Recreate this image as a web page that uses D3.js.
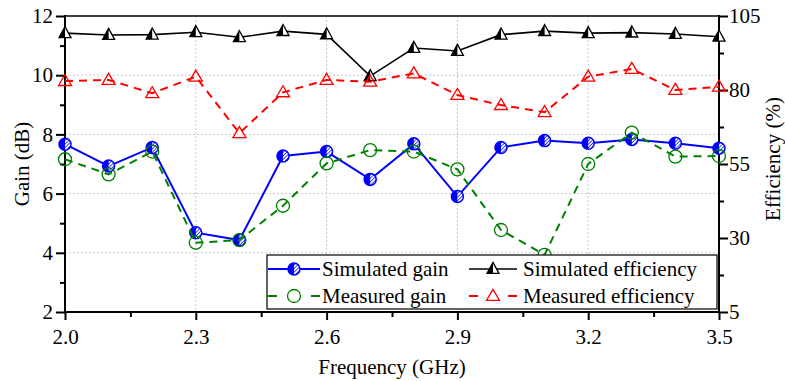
<!DOCTYPE html>
<html>
<head>
<meta charset="utf-8">
<script src="https://cdn.jsdelivr.net/npm/d3@7"></script>
<style>
  html, body { margin: 0; padding: 0; background: #fff; }
  svg { display: block; }
  svg text { font-family: "Times New Roman", "Liberation Serif", Tinos, "DejaVu Serif", "Noto Serif", serif !important; }
</style>
</head>
<body>
<svg id="chart" width="785" height="381"></svg>
<script>
// Frequency sweep (GHz)
const frequencies = [2.0, 2.1, 2.2, 2.3, 2.4, 2.5, 2.6, 2.7, 2.8, 2.9, 3.0, 3.1, 3.2, 3.3, 3.4, 3.5];
// Gain (dB)
const simulatedGain = [7.67, 6.93, 7.56, 4.68, 4.43, 7.27, 7.42, 6.48, 7.68, 5.90, 7.56, 7.79, 7.70, 7.83, 7.70, 7.53];
const measuredGain  = [7.16, 6.65, 7.42, 4.34, 4.43, 5.59, 7.02, 7.47, 7.42, 6.82, 4.77, 3.93, 7.00, 8.06, 7.25, 7.27];
// Efficiency (%)
const simulatedEfficiency = [99.2, 98.6, 98.7, 99.5, 97.8, 99.9, 98.8, 84.7, 94.2, 93.2, 98.7, 99.9, 99.2, 99.4, 98.9, 98.0];
const measuredEfficiency  = [83.0, 83.4, 78.9, 84.5, 65.4, 79.2, 83.4, 82.8, 85.6, 78.3, 74.9, 72.5, 84.5, 87.1, 80.0, 81.1];
// Axis ticks
const freqTicks = [2.0, 2.3, 2.6, 2.9, 3.2, 3.5];
const freqMinorTicks = [2.15, 2.45, 2.75, 3.05, 3.35];
const gainTicks = [2, 4, 6, 8, 10, 12];
const gainMinorTicks = [3, 5, 7, 9, 11];
const effTicks = [5, 30, 55, 80, 105];
const effMinorTicks = [17.5, 42.5, 67.5, 92.5];

const svg = d3.select("#chart");
const L = 65, R = 719, T = 16, B = 312;
const FONT = '"Times New Roman", "Liberation Serif", Tinos, "DejaVu Serif", serif';

const x = d3.scaleLinear().domain([2.0, 3.5]).range([L, R]);
const yG = d3.scaleLinear().domain([2, 12]).range([B, T]);
const yE = d3.scaleLinear().domain([5, 105]).range([B, T]);

// hatch pattern for the right half of the simulated-gain marker
const defs = svg.append("defs");
const pat = defs.append("pattern").attr("id", "hatch").attr("patternUnits", "userSpaceOnUse")
  .attr("width", 2.5).attr("height", 2.5).attr("patternTransform", "rotate(45)");
pat.append("rect").attr("width", 2.5).attr("height", 2.5).attr("fill", "#fff");
pat.append("line").attr("x1", 0).attr("y1", 0).attr("x2", 0).attr("y2", 2.5)
  .attr("stroke", "#0000ff").attr("stroke-width", 1.4);

// grid
const grid = svg.append("g").attr("stroke", "#c8c8c8").attr("stroke-width", 1).attr("stroke-dasharray", "2,2");
grid.selectAll(".gx").data(freqTicks.slice(1, -1)).join("line")
  .attr("x1", d => x(d)).attr("x2", d => x(d)).attr("y1", T).attr("y2", B);
grid.selectAll(".gy").data(gainTicks.slice(1, -1)).join("line")
  .attr("x1", L).attr("x2", R).attr("y1", d => yG(d)).attr("y2", d => yG(d));

// axes
const fmt1 = d3.format(".1f");
const axB = svg.append("g").attr("transform", `translate(0,${B})`)
  .call(d3.axisBottom(x).tickValues(freqTicks).tickFormat(fmt1).tickSize(8).tickSizeOuter(0));
const axBm = svg.append("g").attr("transform", `translate(0,${B})`)
  .call(d3.axisBottom(x).tickValues(freqMinorTicks).tickFormat("").tickSize(5).tickSizeOuter(0));
const axL = svg.append("g").attr("transform", `translate(${L},0)`)
  .call(d3.axisLeft(yG).tickValues(gainTicks).tickSize(9).tickSizeOuter(0));
const axLm = svg.append("g").attr("transform", `translate(${L},0)`)
  .call(d3.axisLeft(yG).tickValues(gainMinorTicks).tickFormat("").tickSize(5).tickSizeOuter(0));
const axR = svg.append("g").attr("transform", `translate(${R},0)`)
  .call(d3.axisRight(yE).tickValues(effTicks).tickSize(9).tickSizeOuter(0));
const axRm = svg.append("g").attr("transform", `translate(${R},0)`)
  .call(d3.axisRight(yE).tickValues(effMinorTicks).tickFormat("").tickSize(5).tickSizeOuter(0));

[axB, axBm, axL, axLm, axR, axRm].forEach(a => {
  a.attr("font-family", FONT).attr("font-size", 21);
  a.select(".domain").remove();
  a.selectAll(".tick line").attr("stroke", "#000").attr("stroke-width", 2);
  a.selectAll("text").attr("font-family", FONT).attr("font-size", 21).attr("fill", "#000");
});
axB.selectAll("text").attr("dy", "0.95em").attr("y", 12);
axL.selectAll("text").attr("x", -12);
axR.selectAll("text").attr("x", 10);

// frame
svg.append("line").attr("x1", L).attr("x2", R).attr("y1", T).attr("y2", T).attr("stroke", "#000").attr("stroke-width", 1.6);
svg.append("line").attr("x1", L - 1).attr("x2", R + 1).attr("y1", B).attr("y2", B).attr("stroke", "#000").attr("stroke-width", 2);
svg.append("line").attr("x1", L).attr("x2", L).attr("y1", T - 1).attr("y2", B + 1).attr("stroke", "#000").attr("stroke-width", 2);
svg.append("line").attr("x1", R).attr("x2", R).attr("y1", T - 1).attr("y2", B + 1).attr("stroke", "#000").attr("stroke-width", 2);

// axis titles
svg.append("text").attr("x", (L + R) / 2).attr("y", 374).attr("text-anchor", "middle")
  .attr("font-family", FONT).attr("font-size", 21).text("Frequency (GHz)");
svg.append("text").attr("transform", `translate(29,${(T + B) / 2}) rotate(-90)`).attr("text-anchor", "middle")
  .attr("font-family", FONT).attr("font-size", 21).text("Gain (dB)");
svg.append("text").attr("transform", `translate(780,${(T + B) / 2 - 5}) rotate(-90)`).attr("text-anchor", "middle")
  .attr("font-family", FONT).attr("font-size", 21).text("Efficiency (%)");

// marker painters
function halfCircle(g, cx, cy) {
  const r = 6;
  g.append("circle").attr("cx", cx).attr("cy", cy).attr("r", r).attr("fill", "url(#hatch)").attr("stroke", "#0000ff").attr("stroke-width", 1.5);
  g.append("path").attr("d", `M${cx},${cy - r} A${r},${r} 0 0 0 ${cx},${cy + r} Z`).attr("fill", "#0000ff");
}
function halfTriangle(g, cx, cy) {
  const h = 11, w = 12;
  const top = cy - h * 0.6, bot = cy + h * 0.4;
  g.append("path").attr("d", `M${cx},${top} L${cx + w / 2},${bot} L${cx - w / 2},${bot} Z`).attr("fill", "#fff").attr("stroke", "#000").attr("stroke-width", 1.3);
  g.append("path").attr("d", `M${cx},${top} L${cx},${bot} L${cx - w / 2},${bot} Z`).attr("fill", "#000");
}
function openCircle(g, cx, cy) {
  g.append("circle").attr("cx", cx).attr("cy", cy).attr("r", 6.5).attr("fill", "none").attr("stroke", "#008000").attr("stroke-width", 1.3);
}
function openTriangle(g, cx, cy) {
  const h = 11, w = 13;
  const top = cy - h * 0.6, bot = cy + h * 0.4;
  g.append("path").attr("d", `M${cx},${top} L${cx + w / 2},${bot} L${cx - w / 2},${bot} Z`).attr("fill", "none").attr("stroke", "#ff0000").attr("stroke-width", 1.3);
}

const series = [
  { name: "Simulated gain", values: simulatedGain, y: yG, color: "#0000ff", width: 2, dash: null, marker: halfCircle },
  { name: "Measured gain", values: measuredGain, y: yG, color: "#008000", width: 2, dash: "8,6", marker: openCircle },
  { name: "Simulated efficiency", values: simulatedEfficiency, y: yE, color: "#000000", width: 1.6, dash: null, marker: halfTriangle },
  { name: "Measured efficiency", values: measuredEfficiency, y: yE, color: "#ff0000", width: 2, dash: "8,6", marker: openTriangle }
];

const plot = svg.append("g");
series.forEach(s => {
  const line = d3.line().x((d, i) => x(frequencies[i])).y(d => s.y(d));
  plot.append("path").datum(s.values).attr("d", line).attr("fill", "none")
    .attr("stroke", s.color).attr("stroke-width", s.width)
    .attr("stroke-dasharray", s.dash);
  const mg = plot.append("g");
  s.values.forEach((v, i) => s.marker(mg, x(frequencies[i]), s.y(v)));
});

// legend
const lg = svg.append("g");
lg.append("rect").attr("x", 267).attr("y", 255).attr("width", 450).attr("height", 54)
  .attr("fill", "#fff").attr("stroke", "#000").attr("stroke-width", 1.2);
const cols = [{ lx: 268, mx: 294, tx: 322 }, { lx: 469, mx: 493, tx: 523 }];
const rows = [269, 296];
const order = [[0, 0, 0], [2, 1, 0], [1, 0, 1], [3, 1, 1]];
order.forEach(([si, c, r]) => {
  const s = series[si], col = cols[c], yy = rows[r];
  const segW = 2 * (col.mx - col.lx);
  if (s.dash) {
    lg.append("line").attr("x1", col.lx).attr("x2", col.lx + 9).attr("y1", yy).attr("y2", yy).attr("stroke", s.color).attr("stroke-width", 2);
    lg.append("line").attr("x1", col.lx + segW - 9).attr("x2", col.lx + segW).attr("y1", yy).attr("y2", yy).attr("stroke", s.color).attr("stroke-width", 2);
  } else {
    lg.append("line").attr("x1", col.lx).attr("x2", col.lx + segW).attr("y1", yy).attr("y2", yy).attr("stroke", s.color).attr("stroke-width", s.width);
  }
  s.marker(lg, col.mx, yy);
  lg.append("text").attr("x", col.tx).attr("y", yy + 7).attr("font-family", FONT).attr("font-size", 21).text(s.name);
});
</script>
</body>
</html>
